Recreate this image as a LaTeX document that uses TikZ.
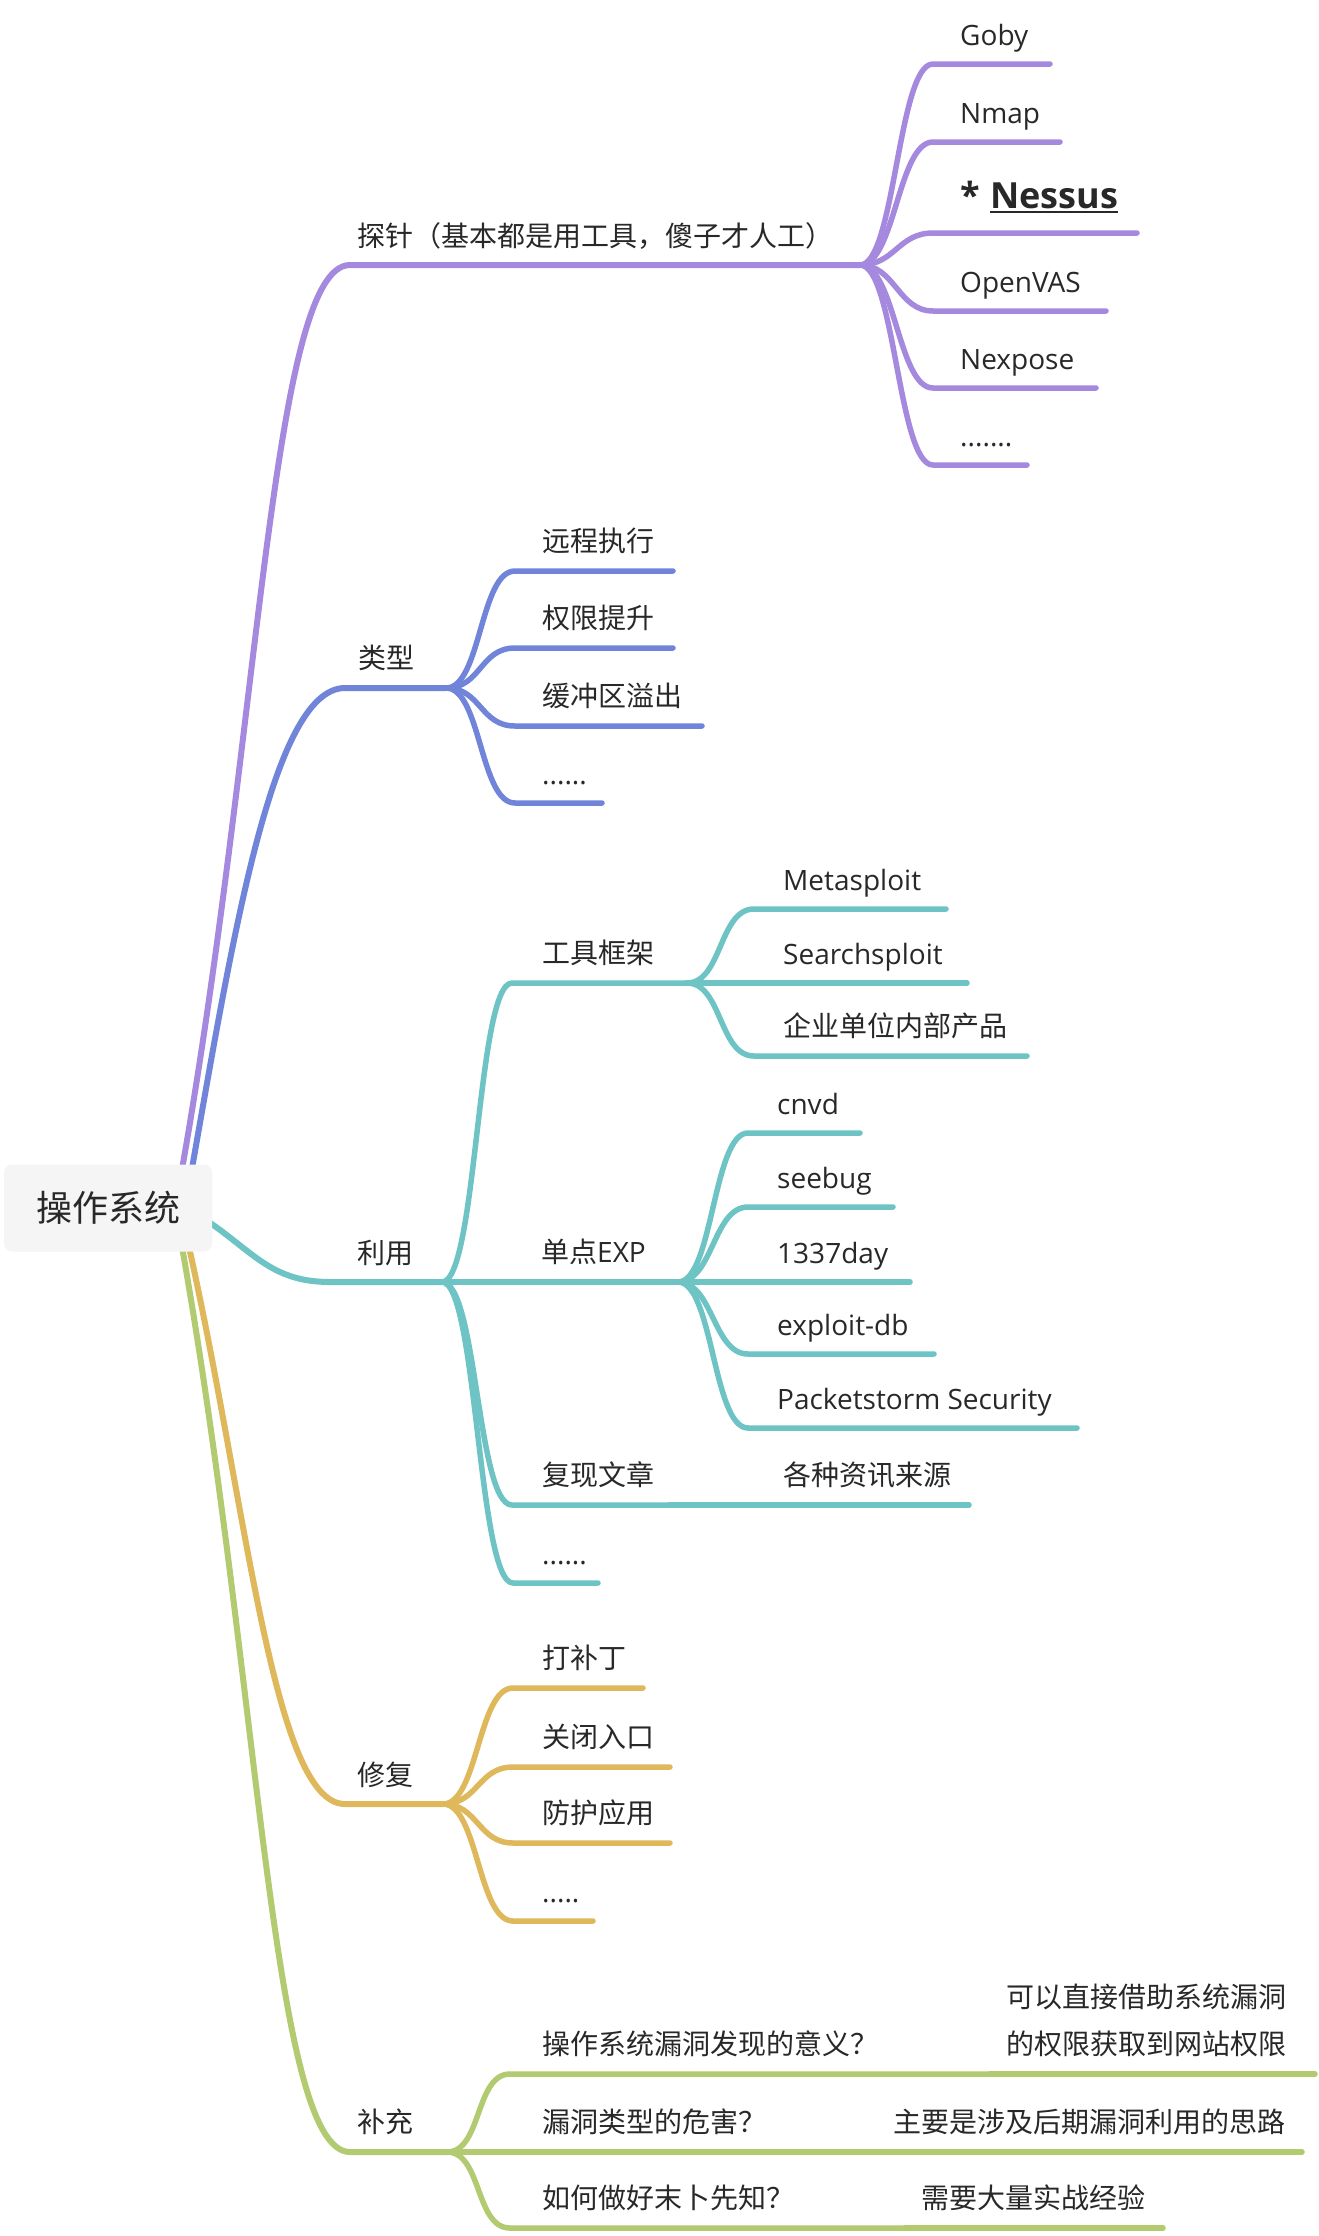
\documentclass[tikz,border=0pt]{standalone}
\usepackage{fontspec}
\setmainfont{Open Sans}
\newfontfamily\cjk{Noto Sans CJK SC}
\usetikzlibrary{backgrounds}
\definecolor{cpur}{RGB}{165,137,222}
\definecolor{cblu}{RGB}{112,133,218}
\definecolor{ctea}{RGB}{110,196,196}
\definecolor{cgol}{RGB}{222,184,90}
\definecolor{cgrn}{RGB}{178,202,112}
\definecolor{ctxt}{RGB}{40,40,40}
\definecolor{croot}{RGB}{245,245,245}
% #1 style, #2 branch point, #3 name, #4 y, #5 x start of straight part, #6 x end
\newcommand\leaf[6]{%
  \coordinate (#3s) at (#5,#4);
  \coordinate (#3e) at (#6,#4);
  \draw[#1] (#2) .. controls +(35,0) and +(-35,0) .. (#3s) -- (#3e);}
\tikzset{
  lbl/.style={inner sep=0pt, anchor=base west, text=ctxt},
  zh/.style={lbl, font=\cjk\fontsize{28}{34}\selectfont},
  en/.style={lbl, font=\fontsize{28}{34}\selectfont},
  lnw/.style={line width=5.5pt, line cap=round, line join=round},
  lnmain/.style={lnw, line width=6pt},
  lnpur/.style={lnw, draw=cpur},
  lnblu/.style={lnw, draw=cblu},
  lntea/.style={lnw, draw=ctea},
  lngol/.style={lnw, draw=cgol},
  lngrn/.style={lnw, draw=cgrn},
  rootbox/.style={fill=croot, rounded corners=8pt, minimum width=208pt, minimum height=87pt,
    inner sep=0pt, text=ctxt, font=\cjk\fontsize{36}{40}\selectfont}
}
\begin{document}
\begin{tikzpicture}[x=1pt,y=-1pt]
\useasboundingbox (0,0) rectangle (1318,2236);
% root
\node[rootbox] (root) at (108,1208) {操作系统};
% start and branch points
\coordinate (s1) at (175,1208);
\coordinate (s2) at (185,1208);
\coordinate (s3) at (190,1210);
\coordinate (s4) at (180,1208);
\coordinate (s5) at (175,1208);
\coordinate (pB) at (860,265);
\coordinate (bB) at (446,688);
\coordinate (tB) at (442,1282);
\coordinate (gB) at (443,1804);
\coordinate (nB) at (447,2152);
\coordinate (tB1) at (687,983);
\coordinate (tB2) at (678,1282);
\begin{scope}[on background layer]
\fill[white] (0,0) rectangle (1318,2236);
% main branches
\draw[lnmain,draw=cpur] (s1) .. controls (260,750) and (270,265) .. (350,265) -- (pB);
\draw[lnmain,draw=cblu] (s2) .. controls (230,955) and (270,688) .. (345,688) -- (bB);
\draw[lnmain,draw=ctea] (s3) .. controls (250,1245) and (265,1282) .. (330,1282) -- (tB);
\draw[lnmain,draw=cgol] (s4) .. controls (245,1480) and (270,1804) .. (345,1804) -- (gB);
\draw[lnmain,draw=cgrn] (s5) .. controls (260,1666) and (270,2152) .. (350,2152) -- (nB);
% purple children
\leaf{lnpur}{pB}{pa}{64}{933}{1050}
\leaf{lnpur}{pB}{pb}{142}{933}{1060}
\leaf{lnpur}{pB}{pc}{233}{933}{1137}
\leaf{lnpur}{pB}{pd}{311}{933}{1106}
\leaf{lnpur}{pB}{pe}{388}{933}{1096}
\leaf{lnpur}{pB}{pf}{465}{933}{1027}
% blue children
\leaf{lnblu}{bB}{ba}{571}{515}{673}
\leaf{lnblu}{bB}{bb}{648}{515}{673}
\leaf{lnblu}{bB}{bc}{726}{515}{702}
\leaf{lnblu}{bB}{bd}{803}{515}{602}
% teal children
\draw[lntea] (tB) .. controls +(35,0) and +(-35,0) .. (512,983) -- (tB1);
\draw[lntea] (tB) -- (tB2);
\leaf{lntea}{tB}{tc}{1505}{512}{669}
\coordinate (tce2) at (969,1505);
\draw[lntea] (tce) -- (tce2);
\leaf{lntea}{tB}{td}{1583}{513}{598}
% tool framework children
\leaf{lntea}{tB1}{ka}{909}{754}{946}
\draw[lntea] (tB1) -- (967,983);
\leaf{lntea}{tB1}{kc}{1056}{754}{1027}
% EXP children
\leaf{lntea}{tB2}{ea}{1133}{748}{860}
\leaf{lntea}{tB2}{eb}{1207}{748}{893}
\draw[lntea] (tB2) -- (910,1282);
\leaf{lntea}{tB2}{ed}{1354}{748}{934}
\leaf{lntea}{tB2}{ee}{1428}{748}{1077}
% gold children
\leaf{lngol}{gB}{ga}{1688}{513}{643}
\leaf{lngol}{gB}{gb}{1767}{513}{670}
\leaf{lngol}{gB}{gc}{1843}{513}{670}
\leaf{lngol}{gB}{gd}{1921}{513}{593}
% green children
\leaf{lngrn}{nB}{na}{2074}{510}{990}
\coordinate (na2) at (1315,2074);
\draw[lngrn] (nae) -- (na2);
\coordinate (nbe) at (900,2152);
\coordinate (nb2) at (1302,2152);
\draw[lngrn] (nB) -- (nbe) -- (nb2);
\leaf{lngrn}{nB}{nc}{2228}{510}{905}
\coordinate (nc2) at (1163,2228);
\draw[lngrn] (nce) -- (nc2);
\end{scope}
% main labels
\node[zh] (tz) at (357,246) {探针（基本都是用工具，傻子才人工）};
\node[zh] (lx) at (358,668) {类型};
\node[zh] (ly) at (357,1263) {利用};
\node[zh] (xf) at (357,1785) {修复};
\node[zh] (bc) at (357,2132) {补充};
% purple labels
\node[en] (goby) at (960,45) {Goby};
\node[en] (nmap) at (960,123) {Nmap};
\node[lbl, font=\bfseries\fontsize{36}{40}\selectfont] (nstar) at (960,208) {*};
\node[lbl, font=\bfseries\fontsize{36}{40}\selectfont] (nes) at (990,208) {Nessus};
\draw[ctxt, line width=2.2pt] ([yshift=-4pt]nes.base west) -- ([yshift=-4pt]nes.base east);
\node[en] (ovas) at (960,292) {OpenVAS};
\node[en] (nexp) at (960,369) {Nexpose};
\node[en] (pdot) at (960,446) {.......};
% blue labels
\node[zh] (yc) at (542,551) {远程执行};
\node[zh] (qx) at (542,628) {权限提升};
\node[zh] (hc) at (542,706) {缓冲区溢出};
\node[en] (bdot) at (542,784) {......};
% teal labels
\node[zh] (gj) at (542,963) {工具框架};
\node[en] (exp) at (541,1262) {{\cjk 单点}EXP};
\node[zh] (fx) at (542,1485) {复现文章};
\node[en] (tdot) at (542,1564) {......};
\node[en] (msf) at (783,890) {Metasploit};
\node[en] (ssp) at (783,964) {Searchsploit};
\node[zh] (qy) at (783,1036) {企业单位内部产品};
\node[en] (cnvd) at (777,1114) {cnvd};
\node[en] (seeb) at (777,1188) {seebug};
\node[en] (l337) at (777,1263) {1337day};
\node[en] (edb) at (777,1335) {exploit-db};
\node[en] (pss) at (777,1409) {Packetstorm Security};
\node[zh] (gz) at (783,1485) {各种资讯来源};
% gold labels
\node[zh] (dbd) at (542,1668) {打补丁};
\node[zh] (gb) at (542,1747) {关闭入口};
\node[zh] (fh) at (542,1823) {防护应用};
\node[en] (gdot) at (542,1902) {.....};
% green labels
\node[zh] (q1) at (542,2054) {操作系统漏洞发现的意义？};
\node[zh] (q2) at (542,2132) {漏洞类型的危害？};
\node[zh] (q3) at (542,2208) {如何做好末卜先知？};
\node[zh, anchor=north east, align=right, font=\cjk\fontsize{28}{47}\selectfont] (a1) at (1287,1984) {可以直接借助系统漏洞\\的权限获取到网站权限};
\node[zh] (a2) at (893,2132) {主要是涉及后期漏洞利用的思路};
\node[zh] (a3) at (921,2208) {需要大量实战经验};
\end{tikzpicture}
\end{document}
